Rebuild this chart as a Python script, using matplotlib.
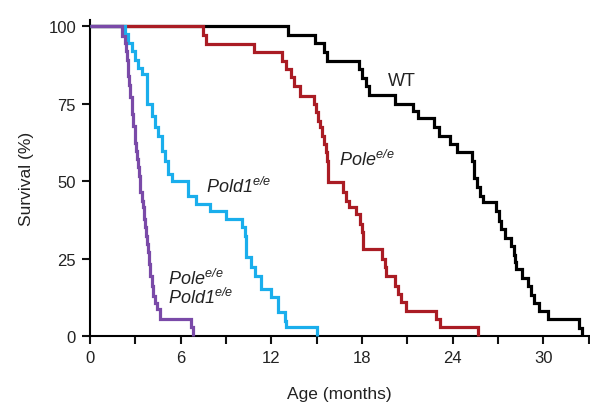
import matplotlib
matplotlib.use("Agg")
import matplotlib.pyplot as plt

plt.rcParams['font.family'] = ['Liberation Sans', 'DejaVu Sans']
plt.rcParams['mathtext.fontset'] = 'custom'
plt.rcParams['mathtext.rm'] = 'Liberation Sans:italic'
plt.rcParams['mathtext.it'] = 'Liberation Sans:italic'
plt.rcParams['mathtext.bf'] = 'Liberation Sans:bold'

# Kaplan-Meier style step data (time in months, survival %)
wt_t = [0, 13.1, 14.9, 15.5, 15.7, 17.8, 18.0, 18.3, 18.5, 20.2, 21.4, 21.7, 22.8, 23.1,
        23.8, 24.3, 25.3, 25.4, 25.45, 25.6, 25.8, 26.0, 26.9, 27.1, 27.2, 27.5, 27.9,
        28.1, 28.15, 28.2, 28.6, 29.0, 29.2, 29.4, 29.7, 30.3, 32.4, 32.6]
wt_s = [100, 97.2, 94.4, 91.6, 88.8, 86.1, 83.3, 80.6, 77.8, 75.0, 72.6, 70.2, 67.3, 64.6,
        61.9, 59.3, 56.5, 53.7, 50.9, 48.1, 45.3, 43.1, 40.3, 37.1, 34.4, 31.7, 29.0,
        26.3, 24.0, 21.6, 18.8, 16.1, 13.3, 10.6, 8.0, 5.4, 2.7, 0]

pole_t = [0, 7.49, 7.71, 10.87, 12.72, 13.0, 13.3, 13.5, 13.9, 14.8, 14.94, 15.07, 15.2,
          15.33, 15.47, 15.6, 15.66, 15.73, 16.72, 16.92, 17.12, 17.63, 17.85, 17.98,
          18.06, 18.1, 19.3, 19.5, 19.6, 20.16, 20.4, 20.6, 20.93, 22.9, 23.2, 25.66]
pole_s = [100, 97.1, 94.2, 91.5, 88.8, 86.1, 83.5, 80.7, 77.5, 74.8, 72.2, 69.5, 67.3,
          64.6, 61.9, 59.3, 56.5, 49.6, 46.4, 43.6, 41.5, 39.4, 36.1, 33.5,
          30.7, 28.1, 24.8, 22.3, 19.5, 16.2, 13.5, 10.9, 8.2, 5.5, 2.8, 0]

pold1_t = [0, 2.31, 2.53, 2.75, 2.97, 3.19, 3.42, 3.75, 4.08, 4.3, 4.51, 4.74, 4.96, 5.17,
           5.4, 6.5, 7.05, 7.93, 9.03, 10.03, 10.24, 10.36, 10.69, 10.9, 11.35, 12.0,
           12.45, 12.89, 13.0, 15.0]
pold1_s = [100, 97.3, 94.6, 91.9, 89.2, 86.5, 84.5, 74.8, 71.1, 67.3, 64.6, 59.8, 56.5, 52.3,
           50.1, 45.3, 42.6, 40.4, 37.7, 35.1, 32.4, 25.4, 22.2, 19.5, 15.2, 12.5,
           7.6, 4.9, 2.8, 0]

dbl_t = [0, 2.1, 2.31, 2.4, 2.45, 2.5, 2.53, 2.58, 2.63, 2.76, 2.8, 2.85, 2.97, 3.0, 3.05,
         3.1, 3.19, 3.25, 3.3, 3.42, 3.52, 3.6, 3.65, 3.7, 3.75, 3.85, 3.9, 3.97, 4.08,
         4.18, 4.3, 4.41, 4.63, 6.72, 6.83]
dbl_s = [100, 96.9, 94.7, 91.9, 89.2, 86.5, 83.8, 81.1, 77.0, 74.3, 71.6, 67.8, 65.1, 62.4,
         59.7, 57.1, 54.4, 51.7, 46.4, 43.7, 41.5, 37.8, 35.1, 32.4, 29.7, 27.0, 23.2,
         19.5, 16.2, 13.0, 10.8, 8.7, 5.5, 2.8, 0]

series = [
    (wt_t, wt_s, '#000000'),
    (pole_t, pole_s, '#AA1C24'),
    (pold1_t, pold1_s, '#1AAEEC'),
    (dbl_t, dbl_s, '#7A4AA8'),
]

xticks = list(range(0, 34, 3))
xticklabels = [str(v) if v % 6 == 0 else '' for v in xticks]
yticks = [0, 25, 50, 75, 100]

fig = plt.figure(figsize=(5.9, 4.1), dpi=100)
ax = fig.add_axes([0.1525, 0.178, 0.845, 0.771])

for t, s, c in series:
    ax.step(t, s, where='post', color=c, lw=2.3, solid_joinstyle='miter',
            solid_capstyle='butt', clip_on=False, zorder=3)

ax.set_xlim(0, 33)
ax.set_ylim(0, 102)
ax.set_xticks(xticks)
ax.set_xticklabels(xticklabels)
ax.set_yticks(yticks)
for sp in ['top', 'right']:
    ax.spines[sp].set_visible(False)
for sp in ['left', 'bottom']:
    ax.spines[sp].set_linewidth(1.5)
ax.tick_params(axis='both', direction='out', length=6, width=1.5, labelsize=12,
               colors='#111111', labelcolor='#222222', pad=4)

ax.set_xlabel('Age (months)', fontsize=12.5, color='#222222', labelpad=15)
ax.set_ylabel('Survival (%)', fontsize=12.5, color='#222222', labelpad=10)

tc = '#222222'
ax.text(19.7, 82.3, 'WT', fontsize=13, color=tc, va='center', ha='left')
ax.text(16.5, 57, r'$Pole^{e/e}$', fontsize=13, color=tc, va='center', ha='left')
ax.text(7.7, 48.4, r'$Pold1^{e/e}$', fontsize=13, color=tc, va='center', ha='left')
ax.text(5.15, 15.6, r'$Pole^{e/e}$' + '\n' + r'$Pold1^{e/e}$',
        fontsize=13, color=tc, va='center', ha='left', linespacing=0.95)

fig.savefig('out.png', dpi=100)
